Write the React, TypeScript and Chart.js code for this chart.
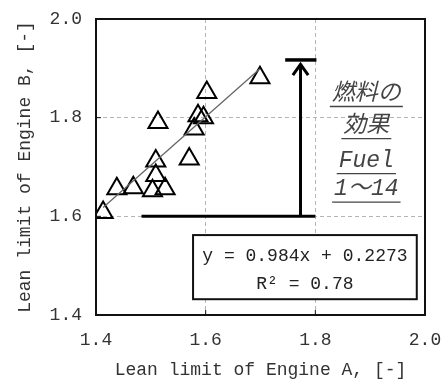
import React, { useEffect, useRef } from "react";
import { Chart, registerables } from "chart.js";

Chart.register(...registerables);

// Fuel 1-14 measurements: lean limit of Engine A (x) vs Engine B (y)
const engineA = [1.413, 1.438, 1.468, 1.503, 1.526, 1.509, 1.509, 1.513, 1.570, 1.579, 1.586, 1.596, 1.602, 1.699];
const engineB = [1.608, 1.656, 1.658, 1.652, 1.656, 1.683, 1.712, 1.790, 1.716, 1.777, 1.804, 1.800, 1.851, 1.881];

// Linear trend: y = 0.984x + 0.2273
const slope = 0.984;
const intercept = 0.2273;
const trendRange = [1.413, 1.699];

const axisTicks = [1.4, 1.6, 1.8, 2.0];
const xTitle = "Lean limit of Engine A, [-]";
const yTitle = "Lean limit of Engine B, [-]";

// "Fuel effect" annotation
const baselineY = 1.6;
const baselineX = [1.483, 1.8];
const arrowX = 1.773;
const arrowTopY = 1.917;
const capX = [1.745, 1.802];
const arrowHeadX = [1.759, 1.773, 1.787];
const arrowHeadY = [1.886, 1.908, 1.886];

const noteLines = ["燃料の", "効果", "Fuel", "1〜14"];
const noteAnchor = { x: 1.893, y: [1.849, 1.784, 1.713, 1.655] };

const eqLines = ["y = 0.984x + 0.2273", "R² = 0.78"];
const eqBox = { x1: 1.577, x2: 1.985, y1: 1.562, y2: 1.432 };
const eqTextY = [1.52, 1.462];

export default function App() {
  const ref = useRef<HTMLCanvasElement | null>(null);
  useEffect(() => {
    if (!ref.current) return;
    const points = engineA.map((x, i) => ({ x, y: engineB[i] }));
    const trend = trendRange.map((x) => ({ x, y: slope * x + intercept }));
    const mono = '"Liberation Mono", "Noto Sans CJK JP", monospace';

    const overlay = {
      id: "overlay",
      afterDatasetsDraw(chart: any) {
        const { ctx, chartArea: a, scales } = chart;
        const xs = scales.x, ys = scales.y;
        ctx.save();
        // frame
        ctx.strokeStyle = "#111";
        ctx.lineWidth = 2;
        ctx.strokeRect(a.left, a.top, a.right - a.left, a.bottom - a.top);
        // inward tick marks
        ctx.lineWidth = 1;
        axisTicks.slice(1, -1).forEach((v) => {
          const py = ys.getPixelForValue(v);
          ctx.beginPath();
          ctx.moveTo(a.left, py);
          ctx.lineTo(a.left + 5, py);
          ctx.stroke();
          const px = xs.getPixelForValue(v);
          ctx.beginPath();
          ctx.moveTo(px, a.bottom);
          ctx.lineTo(px, a.bottom - 5);
          ctx.stroke();
        });
        // note text
        ctx.fillStyle = "#444";
        ctx.strokeStyle = "#444";
        ctx.font = `italic 23px ${mono}`;
        ctx.textAlign = "center";
        ctx.textBaseline = "middle";
        const nx = xs.getPixelForValue(noteAnchor.x);
        noteLines.forEach((t, i) => {
          const py = ys.getPixelForValue(noteAnchor.y[i]);
          ctx.fillText(t, nx, py);
          const w = ctx.measureText(t).width;
          ctx.lineWidth = 1.3;
          ctx.beginPath();
          ctx.moveTo(nx - w / 2 - 2, py + 13);
          ctx.lineTo(nx + w / 2 + 2, py + 13);
          ctx.stroke();
        });
        // equation box
        const bx1 = xs.getPixelForValue(eqBox.x1), bx2 = xs.getPixelForValue(eqBox.x2);
        const by1 = ys.getPixelForValue(eqBox.y1), by2 = ys.getPixelForValue(eqBox.y2);
        ctx.fillStyle = "#fff";
        ctx.fillRect(bx1, by1, bx2 - bx1, by2 - by1);
        ctx.strokeStyle = "#111";
        ctx.lineWidth = 2;
        ctx.strokeRect(bx1, by1, bx2 - bx1, by2 - by1);
        ctx.fillStyle = "#222";
        ctx.font = `18px ${mono}`;
        eqLines.forEach((t, i) => {
          ctx.fillText(t, (bx1 + bx2) / 2, ys.getPixelForValue(eqTextY[i]));
        });
        ctx.restore();
      },
    };

    const chart = new Chart(ref.current, {
      type: "scatter",
      data: {
        datasets: [
          {
            data: trend,
            showLine: true,
            borderColor: "#666",
            borderWidth: 1.3,
            pointRadius: 0,
          },
          {
            data: [{ x: baselineX[0], y: baselineY }, { x: baselineX[1], y: baselineY }],
            showLine: true,
            borderColor: "#000",
            borderWidth: 3,
            pointRadius: 0,
          },
          {
            data: [{ x: arrowX, y: baselineY }, { x: arrowX, y: arrowTopY - 0.01 }],
            showLine: true,
            borderColor: "#000",
            borderWidth: 3,
            pointRadius: 0,
          },
          {
            data: [{ x: capX[0], y: arrowTopY }, { x: capX[1], y: arrowTopY }],
            showLine: true,
            borderColor: "#000",
            borderWidth: 3.5,
            pointRadius: 0,
          },
          {
            data: arrowHeadX.map((x, i) => ({ x, y: arrowHeadY[i] })),
            showLine: true,
            borderColor: "#000",
            borderWidth: 3,
            pointRadius: 0,
          },
          {
            data: points,
            pointStyle: "triangle",
            pointRadius: 11,
            pointBorderWidth: 2,
            pointBorderColor: "#000",
            pointBackgroundColor: "rgba(255,255,255,0)",
          },
        ],
      },
      options: {
        animation: false,
        responsive: false,
        layout: { padding: { top: 19, right: 18, left: 0, bottom: 0 } },
        plugins: { legend: { display: false }, tooltip: { enabled: false } },
        scales: {
          x: {
            type: "linear",
            min: 1.4,
            max: 2.0,
            afterBuildTicks: (s: any) => {
              s.ticks = axisTicks.map((v) => ({ value: v }));
            },
            afterFit: (s: any) => {
              s.height = 66;
              s.paddingLeft = 0;
              s.paddingRight = 0;
            },
            ticks: {
              padding: 14,
              color: "#333",
              font: { family: mono, size: 18 },
              callback: (v: any) => Number(v).toFixed(1),
            },
            grid: {
              drawTicks: false,
              color: (c: any) =>
                c.tick && (c.tick.value === 1.4 || c.tick.value === 2.0) ? "rgba(0,0,0,0)" : "#b5b5b5",
              lineWidth: 1,
            },
            border: { display: false, dash: [4, 3] },
            title: {
              display: true,
              text: xTitle,
              color: "#333",
              font: { family: mono, size: 18 },
              padding: { top: 0, bottom: 0 },
            },
          },
          y: {
            type: "linear",
            min: 1.4,
            max: 2.0,
            afterBuildTicks: (s: any) => {
              s.ticks = axisTicks.map((v) => ({ value: v }));
            },
            afterFit: (s: any) => {
              s.width = 96;
              s.paddingTop = 0;
              s.paddingBottom = 0;
            },
            ticks: {
              padding: 14,
              color: "#333",
              font: { family: mono, size: 18 },
              callback: (v: any) => Number(v).toFixed(1),
            },
            grid: {
              drawTicks: false,
              color: (c: any) =>
                c.tick && (c.tick.value === 1.4 || c.tick.value === 2.0) ? "rgba(0,0,0,0)" : "#b5b5b5",
              lineWidth: 1,
            },
            border: { display: false, dash: [4, 3] },
            title: {
              display: true,
              text: yTitle,
              color: "#333",
              font: { family: mono, size: 18 },
              padding: { top: 14, bottom: 0 },
            },
          },
        },
      },
      plugins: [overlay],
    } as any);
    return () => chart.destroy();
  }, []);

  return (
    <div style={{ position: "fixed", left: 0, top: 0, width: 443, height: 381, background: "#fff" }}>
      <canvas ref={ref} width={443} height={381} style={{ width: 443, height: 381 }} />
    </div>
  );
}
